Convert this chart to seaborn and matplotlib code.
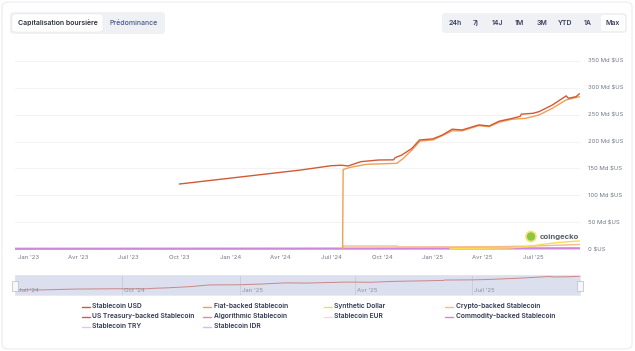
import numpy as np
import pandas as pd
import matplotlib
matplotlib.use("Agg")
import matplotlib.pyplot as plt
import matplotlib.dates as mdates
from matplotlib.patches import FancyBboxPatch, Rectangle, Ellipse
from matplotlib.lines import Line2D
import seaborn as sns

# ================= DATA =================
usd_dates = ["2023-10-01", "2024-05-07", "2024-07-01", "2024-07-20", "2024-08-01",
             "2024-08-24", "2024-09-25", "2024-10-22", "2024-10-25", "2024-11-06",
             "2024-11-24", "2024-12-08", "2025-01-01", "2025-01-18", "2025-02-05",
             "2025-02-23", "2025-03-25", "2025-04-13", "2025-05-01", "2025-05-24",
             "2025-06-08", "2025-06-10", "2025-07-01", "2025-07-12", "2025-08-05",
             "2025-08-30", "2025-09-03", "2025-09-17", "2025-09-23"]
usd_values = [121, 147, 155, 156, 154.6, 162.6, 165.7, 166, 170, 175,
              187, 203, 205, 212, 223, 221.6, 231, 229, 238, 243,
              247, 251, 252.6, 255.7, 268, 285, 280.6, 283.6, 289]

fiat_dates = ["2024-07-22", "2024-07-23", "2024-08-05", "2024-09-03", "2024-10-28",
              "2024-11-09", "2024-11-24", "2024-12-09", "2025-01-01", "2025-01-18",
              "2025-02-05", "2025-02-23", "2025-03-25", "2025-04-13", "2025-05-01",
              "2025-05-24", "2025-06-18", "2025-07-12", "2025-08-05", "2025-08-30",
              "2025-09-23"]
fiat_values = [0, 148, 152, 157.7, 159.5, 169, 184, 201, 203, 211,
               220, 220, 229.6, 227.8, 236, 241.5, 243.3, 249.5, 262, 277.5, 283.6]

crypto_dates = ["2024-07-22", "2024-07-23", "2024-10-28", "2024-10-30", "2025-02-01",
                "2025-05-01", "2025-07-01", "2025-09-23"]
crypto_values = [0, 5.6, 5.6, 4.0, 4.0, 4.5, 5.5, 8.5]

synth_dates = ["2025-02-01", "2025-05-20", "2025-06-20", "2025-07-20", "2025-08-20",
               "2025-09-23"]
synth_values = [0.5, 2.0, 4.5, 9.0, 12.5, 15.0]

commodity_dates = ["2022-12-08", "2023-06-01", "2024-01-01", "2024-07-01", "2025-01-01",
                   "2025-09-23"]
commodity_values = [0.5, 0.6, 0.7, 0.8, 1.0, 1.4]

series_order = ["Stablecoin USD", "Fiat-backed Stablecoin", "Synthetic Dollar",
                "Crypto-backed Stablecoin", "US Treasury-backed Stablecoin",
                "Algorithmic Stablecoin", "Stablecoin EUR", "Commodity-backed Stablecoin",
                "Stablecoin TRY", "Stablecoin IDR"]
series_colors = ["#d25a35", "#f29e55", "#f7dc55", "#f9b98a", "#e34d6a",
                 "#f381a8", "#fbd3e3", "#cf86dd", "#e3c3f3", "#d9b8f5"]

y_ticks = [0, 50, 100, 150, 200, 250, 300, 350]
y_labels = ["0 $US", "50 Md $US", "100 Md $US", "150 Md $US", "200 Md $US",
            "250 Md $US", "300 Md $US", "350 Md $US"]
x_tick_dates = ["2023-01-01", "2023-04-01", "2023-07-01", "2023-10-01", "2024-01-01",
                "2024-04-01", "2024-07-01", "2024-10-01", "2025-01-01", "2025-04-01",
                "2025-07-01"]
x_tick_labels = ["Jan '23", "Avr '23", "Juil '23", "Oct '23", "Jan '24", "Avr '24",
                 "Juil '24", "Oct '24", "Jan '25", "Avr '25", "Juil '25"]
nav_tick_dates = ["2024-07-01", "2024-10-01", "2025-01-01", "2025-04-01", "2025-07-01"]
nav_tick_labels = ["Juil '24", "Oct '24", "Jan '25", "Avr '25", "Juil '25"]
range_buttons = ["24h", "7j", "14J", "1M", "3M", "YTD", "1A", "Max"]

# ================= FRAME =================
def frame(dates, values, name):
    return pd.DataFrame({"date": pd.to_datetime(dates), "value": values, "series": name})

df = pd.concat([
    frame(crypto_dates, crypto_values, "Crypto-backed Stablecoin"),
    frame(synth_dates, synth_values, "Synthetic Dollar"),
    frame(fiat_dates, fiat_values, "Fiat-backed Stablecoin"),
    frame(usd_dates, usd_values, "Stablecoin USD"),
], ignore_index=True)
palette = dict(zip(series_order, series_colors))

# ================= STYLE =================
sns.set_style("white")
plt.rcParams["font.family"] = ["Inter", "DejaVu Sans"]

W, H = 635, 351
fig = plt.figure(figsize=(W / 100, H / 100), dpi=100)

def fx(px):
    return px / W

def fy(py):
    return 1 - py / H

# outer card
fig.add_artist(FancyBboxPatch((fx(2), fy(349)), fx(630), 347 / H,
                              boxstyle="round,pad=0,rounding_size=0.012",
                              transform=fig.transFigure, facecolor="white",
                              edgecolor="#ececf0", lw=0.8, zorder=-5))

# ================= MAIN CHART =================
ax = fig.add_axes([fx(15), fy(250.1), fx(565), 190.2 / H])
ax.patch.set_alpha(0)
sns.lineplot(data=frame(commodity_dates, commodity_values, "Commodity-backed Stablecoin"),
             x="date", y="value", color=palette["Commodity-backed Stablecoin"],
             linewidth=1.6, legend=False, ax=ax, estimator=None)
sns.lineplot(data=df, x="date", y="value", hue="series", palette=palette,
             linewidth=1.0, legend=False, ax=ax, estimator=None)
ax.set_xlim(pd.Timestamp("2022-12-08"), pd.Timestamp("2025-09-24"))
ax.set_ylim(-2, 352)
ax.set_yticks(y_ticks)
ax.set_yticklabels(y_labels)
ax.yaxis.tick_right()
ax.set_xticks(pd.to_datetime(x_tick_dates))
ax.set_xticklabels(x_tick_labels)
ax.tick_params(axis="both", length=0, labelsize=4.3, labelcolor="#707784")
ax.tick_params(axis="y", pad=5.5)
ax.tick_params(axis="x", pad=3.5)
ax.grid(axis="y", color="#f1f1f3", lw=0.6)
ax.grid(axis="x", visible=False)
ax.set_xlabel("")
ax.set_ylabel("")
for s in ax.spines.values():
    s.set_visible(False)

# coingecko mark
fig.add_artist(Ellipse((fx(531), fy(236.5)), 10 / W, 10 / H, transform=fig.transFigure,
                       facecolor="#8dc63f", edgecolor="#f7e27a", lw=1.2))
fig.text(fx(540), fy(236.5), "coingecko", fontsize=5.6, fontweight="bold",
         color="#5b5f66", va="center", ha="left")

# ================= NAVIGATOR =================
nav = fig.add_axes([fx(15), fy(295), fx(565), 20 / H])
nav.set_facecolor("#dcdfee")
usd_df = frame(usd_dates, usd_values, "Stablecoin USD")
sns.lineplot(data=usd_df, x="date", y="value", color="#c98786", linewidth=0.7,
             ax=nav, legend=False, estimator=None)
nav.set_xlim(pd.Timestamp("2024-07-10"), pd.Timestamp("2025-09-23"))
nav.set_ylim(105, 300)
nav.set_xticks(pd.to_datetime(nav_tick_dates[1:]))
nav.set_xticklabels([])
nav.set_yticks([])
nav.tick_params(length=0)
nav.grid(axis="x", color="#c8cbdc", lw=0.6)
nav.set_xlabel("")
nav.set_ylabel("")
for s in nav.spines.values():
    s.set_color("#e4e6f0")
    s.set_linewidth(0.6)
trans = matplotlib.transforms.blended_transform_factory(nav.transData, nav.transAxes)
for d, lab in zip(nav_tick_dates, nav_tick_labels):
    xd = max(pd.Timestamp(d), pd.Timestamp("2024-07-11"))
    nav.text(mdates.date2num(xd) + 1.5, 0.2, lab, transform=trans, fontsize=4.3,
             color="#8a90a0", ha="left", va="center", clip_on=True)
for xa in (0.0, 1.0):
    nav.add_patch(Rectangle((xa - 0.006, 0.22), 0.012, 0.5, transform=nav.transAxes,
                            facecolor="#f6f7fb", edgecolor="#b9bccc", lw=0.5,
                            clip_on=False, zorder=5))

# ================= LEGEND =================
col_x = [82, 203, 324, 445]
row_y = [306.5, 316.5, 326.5]
for i, (name, col) in enumerate(zip(series_order, series_colors)):
    r, c = divmod(i, 4)
    x0, y0 = col_x[c], row_y[r]
    fig.add_artist(Line2D([fx(x0), fx(x0 + 8)], [fy(y0), fy(y0)], color=col, lw=1.0,
                          transform=fig.transFigure))
    fig.text(fx(x0 + 10.5), fy(y0 - 0.5), name, fontsize=4.8, fontweight="semibold",
             color="#2f3650", va="center", ha="left")

# ================= TOP CONTROLS =================
fig.add_artist(FancyBboxPatch((fx(10), fy(34)), fx(155), 22 / H,
                              boxstyle="round,pad=0,rounding_size=0.008",
                              transform=fig.transFigure, facecolor="#eff1f5", edgecolor="none"))
fig.add_artist(FancyBboxPatch((fx(12), fy(32)), fx(91), 18 / H,
                              boxstyle="round,pad=0,rounding_size=0.007",
                              transform=fig.transFigure, facecolor="white", edgecolor="#e6e8ee",
                              lw=0.4))
fig.text(fx(57.5), fy(23), "Capitalisation boursière", fontsize=5.0, fontweight="semibold",
         color="#2b2f3a", ha="center", va="center")
fig.text(fx(133.5), fy(23), "Prédominance", fontsize=5.0, fontweight="medium",
         color="#4a5a8a", ha="center", va="center")

fig.add_artist(FancyBboxPatch((fx(442), fy(33)), fx(185), 20 / H,
                              boxstyle="round,pad=0,rounding_size=0.008",
                              transform=fig.transFigure, facecolor="#eff1f5", edgecolor="none"))
fig.add_artist(FancyBboxPatch((fx(601), fy(31)), fx(24), 16 / H,
                              boxstyle="round,pad=0,rounding_size=0.006",
                              transform=fig.transFigure, facecolor="white", edgecolor="none"))
btn_x = [455, 476, 497, 519, 542, 565, 588, 613]
for bx, lab in zip(btn_x, range_buttons):
    fig.text(fx(bx), fy(23), lab, fontsize=5.0, fontweight="semibold",
             color="#3a4060", ha="center", va="center")

fig.savefig("out.png", dpi=100)
